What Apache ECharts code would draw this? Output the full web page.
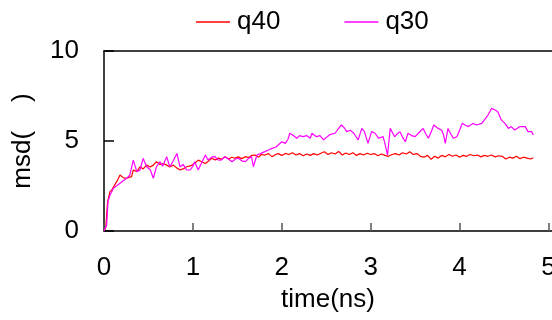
<!DOCTYPE html>
<html>
<head>
<meta charset="utf-8">
<script src="https://cdn.jsdelivr.net/npm/echarts@6/dist/echarts.min.js"></script>
<style>
  html, body { margin: 0; padding: 0; background: #fff; }
  #chart { width: 552px; height: 320px; }
</style>
</head>
<body>
<div id="chart"></div>
<script>
// q40 (red) readings, time in ns
const q40Time = [0, 0.02, 0.04, 0.067, 0.09, 0.12, 0.15, 0.18, 0.22, 0.255, 0.31, 0.33, 0.37, 0.405, 0.44, 0.48, 0.52, 0.555, 0.59, 0.63,
  0.67, 0.705, 0.74, 0.78, 0.82, 0.855, 0.89, 0.93, 0.96, 0.99, 1.03, 1.06, 1.1, 1.14, 1.18, 1.21, 1.25, 1.29, 1.32, 1.36,
  1.4, 1.44, 1.47, 1.51, 1.55, 1.59, 1.63, 1.66, 1.7, 1.74, 1.77, 1.81, 1.85, 1.89, 1.93, 1.96, 2.0, 2.04, 2.08, 2.12,
  2.16, 2.2, 2.24, 2.28, 2.32, 2.36, 2.4, 2.44, 2.48, 2.52, 2.56, 2.6, 2.64, 2.68, 2.72, 2.76, 2.8, 2.84, 2.88, 2.92,
  2.96, 3.0, 3.04, 3.08, 3.12, 3.16, 3.2, 3.24, 3.28, 3.32, 3.36, 3.4, 3.44, 3.48, 3.52, 3.56, 3.6, 3.64, 3.68, 3.72,
  3.76, 3.8, 3.84, 3.88, 3.92, 3.96, 4.0, 4.04, 4.08, 4.12, 4.16, 4.2, 4.24, 4.28, 4.32, 4.36, 4.4, 4.44, 4.48, 4.52,
  4.56, 4.6, 4.64, 4.68, 4.72, 4.76, 4.8, 4.83]
const q40Msd = [0, 0.2, 1.6, 2.19, 2.3, 2.56, 2.8, 3.11, 2.95, 2.93, 3.02, 3.39, 3.3, 3.57, 3.45, 3.66, 3.55, 3.66, 3.85, 3.7,
  3.75, 3.66, 3.55, 3.66, 3.5, 3.39, 3.45, 3.57, 3.6, 3.66, 3.8, 3.94, 3.85, 3.75, 3.9, 4.04, 3.95, 4.05, 3.98, 4.13,
  4.0, 4.1, 4.04, 4.12, 4.02, 4.13, 4.08, 4.2, 4.22, 4.1, 4.25, 4.22, 4.3, 4.13, 4.25, 4.3, 4.2, 4.31, 4.25, 4.35,
  4.22, 4.3, 4.18, 4.28, 4.2, 4.3, 4.22, 4.32, 4.4, 4.25, 4.35, 4.28, 4.42, 4.22, 4.33, 4.25, 4.35, 4.2, 4.3, 4.22,
  4.32, 4.25, 4.3, 4.18, 4.28, 4.2, 4.15, 4.25, 4.3, 4.22, 4.35, 4.28, 4.4, 4.25, 4.3, 4.15, 4.1, 4.2, 3.98, 4.15,
  4.05, 4.2, 4.12, 4.25, 4.15, 4.22, 4.1, 4.2, 4.15, 4.25, 4.18, 4.22, 4.12, 4.2, 4.15, 4.22, 4.12, 4.18, 4.15, 4.0,
  4.1, 4.05, 4.15, 4.02, 4.1, 4.05, 4.0, 4.07]

// q30 (magenta) readings
const q30Time = [0, 0.02, 0.03, 0.045, 0.067, 0.085, 0.105, 0.14, 0.18, 0.22, 0.255, 0.29, 0.33, 0.35, 0.37, 0.405, 0.44, 0.48, 0.52, 0.555,
  0.59, 0.63, 0.66, 0.705, 0.74, 0.78, 0.82, 0.855, 0.89, 0.93, 0.97, 1.0, 1.02, 1.06, 1.1, 1.14, 1.17, 1.21, 1.25, 1.28,
  1.32, 1.36, 1.4, 1.44, 1.48, 1.51, 1.55, 1.59, 1.63, 1.66, 1.68, 1.72, 1.76, 1.81, 1.85, 1.89, 1.93, 1.96, 2.0, 2.04,
  2.07, 2.09, 2.13, 2.17, 2.2, 2.24, 2.28, 2.32, 2.34, 2.39, 2.43, 2.47, 2.5, 2.54, 2.6, 2.64, 2.67, 2.7, 2.73, 2.77,
  2.81, 2.86, 2.9, 2.93, 2.97, 3.01, 3.05, 3.09, 3.14, 3.16, 3.19, 3.22, 3.27, 3.3, 3.33, 3.36, 3.39, 3.42, 3.46, 3.5,
  3.55, 3.59, 3.62, 3.65, 3.68, 3.71, 3.76, 3.8, 3.82, 3.84, 3.87, 3.9, 3.93, 3.97, 4.0, 4.03, 4.06, 4.1, 4.15, 4.19,
  4.25, 4.28, 4.32, 4.36, 4.4, 4.43, 4.47, 4.51, 4.55, 4.58, 4.62, 4.68, 4.74, 4.77, 4.81, 4.83]
const q30Msd = [0, 0.1, 0.33, 1.63, 2.0, 2.15, 2.37, 2.5, 2.65, 2.8, 2.93, 3.1, 3.94, 3.6, 3.3, 3.39, 4.04, 3.57, 3.4, 2.93,
  3.57, 3.85, 3.6, 4.13, 3.57, 3.9, 4.31, 3.57, 3.7, 3.39, 3.39, 3.6, 3.85, 3.39, 3.8, 4.22, 3.94, 4.1, 4.13, 3.95,
  3.94, 4.13, 4.0, 3.85, 4.0, 4.04, 3.9, 3.85, 4.05, 4.13, 3.57, 4.22, 4.3, 4.41, 4.5, 4.59, 4.65, 4.78, 4.96, 4.87,
  5.1, 5.43, 5.3, 5.15, 5.3, 5.24, 5.3, 5.15, 5.43, 5.24, 5.3, 5.06, 5.2, 5.35, 5.43, 5.7, 5.89, 5.75, 5.52, 5.6,
  5.43, 5.06, 5.7, 5.52, 4.87, 5.52, 5.43, 5.15, 5.24, 4.87, 4.22, 5.7, 5.24, 5.4, 5.52, 5.2, 4.96, 5.43, 5.3, 5.24,
  5.5, 5.7, 5.4, 5.15, 5.5, 5.89, 5.7, 5.6, 5.33, 4.87, 5.7, 5.4, 5.15, 5.24, 5.6, 5.98, 5.89, 5.8, 5.98, 5.89,
  5.98, 6.17, 6.44, 6.81, 6.72, 6.63, 6.17, 5.98, 5.7, 5.8, 5.61, 5.8, 5.8, 5.52, 5.52, 5.33]

const xTicks = [0, 1, 2, 3, 4, 5]
const seriesNames = ['q40', 'q30']
const seriesColors = ['#ff0000', '#ff00ff']

const font = "'Liberation Sans', Arial, sans-serif"
const pairs = (xs, ys) => xs.map((x, i) => [x, ys[i]])

const chart = echarts.init(document.getElementById('chart'), null, { renderer: 'canvas' })

chart.setOption({
  animation: false,
  textStyle: { fontFamily: font, color: '#000' },
  grid: { left: 104, right: 0, top: 51, bottom: 89, outerBoundsMode: 'none', containLabel: false },
  legend: {
    left: 191,
    top: 4,
    itemWidth: 34,
    itemHeight: 1.5,
    itemGap: 64,
    data: seriesNames.map(name => ({ name, icon: 'rect' })),
    textStyle: { fontFamily: font, fontSize: 26, color: '#000', padding: [0, 0, 0, 2] },
  },
  xAxis: [
    {
      type: 'value',
      min: 0,
      max: 5.04,
      name: 'time(ns)',
      nameLocation: 'middle',
      nameGap: 56,
      nameTextStyle: { fontFamily: font, fontSize: 26, color: '#000' },
      axisLine: { show: true, lineStyle: { color: '#000', width: 1.5 } },
      axisTick: { show: true, inside: true, length: 8, customValues: xTicks, lineStyle: { color: '#555', width: 1.5 } },
      axisLabel: { customValues: xTicks, fontFamily: font, fontSize: 26, color: '#000', margin: 24 },
      splitLine: { show: false },
    },
    {
      type: 'value',
      position: 'top',
      min: 0,
      max: 5.04,
      axisLine: { show: true, lineStyle: { color: '#000', width: 1.5 } },
      axisTick: { show: false },
      axisLabel: { show: false },
      splitLine: { show: false },
    },
  ],
  yAxis: {
    type: 'value',
    min: 0,
    max: 10,
    interval: 5,
    name: 'msd(    )',
    nameLocation: 'middle',
    nameGap: 68,
    nameTextStyle: { fontFamily: font, fontSize: 26, color: '#000' },
    axisLine: { show: true, lineStyle: { color: '#000', width: 1.5 } },
    axisTick: { show: true, inside: true, length: 10, lineStyle: { color: '#000', width: 1.5 } },
    axisLabel: { fontFamily: font, fontSize: 26, color: '#000', margin: 25 },
    splitLine: { show: false },
  },
  series: [
    {
      name: seriesNames[0],
      type: 'line',
      data: pairs(q40Time, q40Msd),
      symbol: 'none',
      color: seriesColors[0],
      lineStyle: { width: 1.2, color: seriesColors[0] },
    },
    {
      name: seriesNames[1],
      type: 'line',
      data: pairs(q30Time, q30Msd),
      symbol: 'none',
      color: seriesColors[1],
      lineStyle: { width: 1.2, color: seriesColors[1] },
    },
  ],
})
</script>
</body>
</html>
